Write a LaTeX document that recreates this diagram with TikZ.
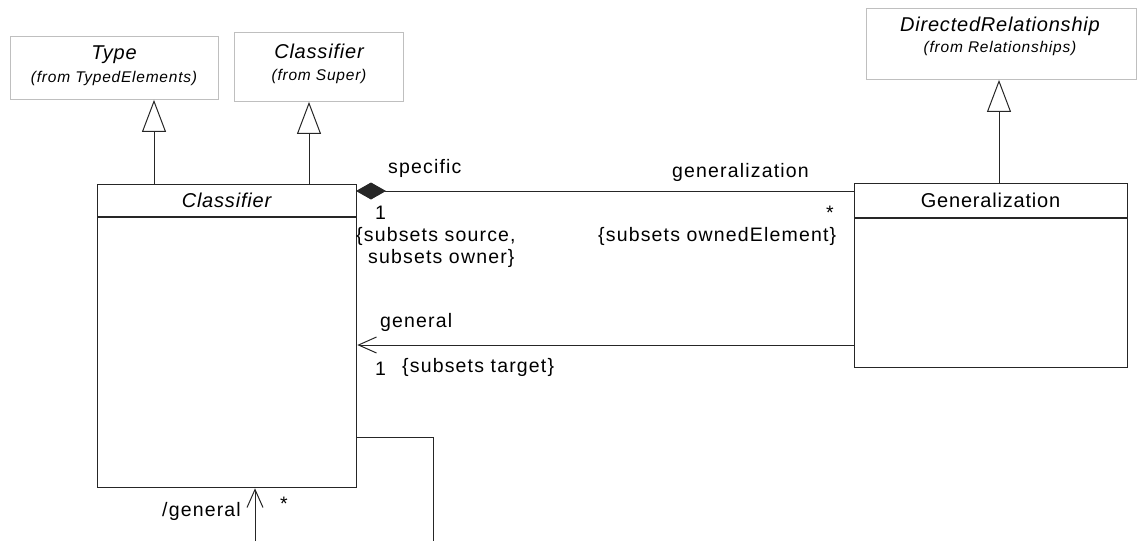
\documentclass[tikz,border=0pt]{standalone}
\usepackage{fontspec}
\setmainfont{Liberation Sans}
\usetikzlibrary{arrows.meta,calc}
\begin{document}
\begin{tikzpicture}[x=1pt,y=-1pt,
  greybox/.style={draw=black!25,line width=0.9pt,rectangle,inner sep=0pt,anchor=north west},
  umlbox/.style={draw=black!85,line width=1.3pt,rectangle,inner sep=0pt,anchor=north west},
  conn/.style={draw=black!85,line width=1pt},
  inh/.style={conn,-{Triangle[open,width=24pt,length=32pt,line width=1pt]}},
  navarrow/.style={conn,-{Straight Barb[length=18pt,width=16pt,line width=1pt]}},
  comp/.style={conn,{Diamond[width=17pt,length=30pt]}-},
  lbl/.style={font=\fontsize{19.5}{22}\selectfont\addfontfeature{LetterSpace=6},inner sep=0pt,anchor=base west},
  ttl/.style={font=\fontsize{20}{24}\selectfont\addfontfeature{LetterSpace=4},inner sep=0pt},
  ittl/.style={font=\fontsize{20}{24}\selectfont\itshape\addfontfeature{LetterSpace=4},inner sep=0pt},
  small/.style={font=\fontsize{15.5}{18}\selectfont\itshape\addfontfeature{LetterSpace=5},inner sep=0pt}]
\useasboundingbox (0,0) rectangle (1138,541);
% top grey boxes
\node[greybox,minimum width=208pt,minimum height=63pt] (typ) at (10,36) {};
\node[ittl] (typt) at (114,55) {Type};
\node[small] (typs) at (114,78) {(from TypedElements)};
\node[greybox,minimum width=169pt,minimum height=69pt] (sup) at (234,32) {};
\node[ittl] (supt) at (319,51) {Classifier};
\node[small] (sups) at (319,76) {(from Super)};
\node[greybox,minimum width=270pt,minimum height=71pt] (dr) at (866,8) {};
\node[ittl] (drt) at (1000,26) {DirectedRelationship};
\node[small] (drs) at (1000,48) {(from Relationships)};
% Classifier
\node[umlbox,minimum width=259pt,minimum height=303pt] (cls) at (97,184) {};
\draw[umlbox] (cls.west |- 0,217) -- (cls.east |- 0,217);
\node[ittl] (clst) at (226.5,200) {Classifier};
% Generalization
\node[umlbox,minimum width=273pt,minimum height=184pt] (gen) at (854,183) {};
\draw[umlbox] (gen.west |- 0,218) -- (gen.east |- 0,218);
\node[ttl] (gent) at (990.5,200) {Generalization};
% inheritance
\coordinate (c1) at (154,184);
\coordinate (c2) at (309,184);
\coordinate (c3) at (999,183);
\draw[inh] (c1) -- (c1 |- typ.south);
\draw[inh] (c2) -- (c2 |- sup.south);
\draw[inh] (c3) -- (c3 |- dr.south);
% composition
\coordinate (d1) at (356,191);
\draw[comp] (d1) -- (d1 -| gen.west);
\node[lbl] (l1) at (388,173) {specific};
\node[lbl] (l2) at (672,177) {generalization};
\node[lbl] (l3) at (375,219) {1};
\node[lbl] (l4) at (356,241) {\{subsets source,};
\node[lbl] (l5) at (368,263) {subsets owner\}};
\node[lbl] (l6) at (826,219) {*};
\node[lbl] (l7) at (598,241) {\{subsets ownedElement\}};
% general
\coordinate (g1) at (854,345);
\draw[navarrow] (g1) -- (g1 -| cls.east);
\node[lbl] (l8) at (380,327) {general};
\node[lbl] (l9) at (375,375) {1};
\node[lbl] (l10) at (402,372) {\{subsets target\}};
% self association
\coordinate (s1) at (356,437);
\coordinate (s2) at (433,541);
\coordinate (s3) at (255,541);
\draw[conn] (s1) -| (s2);
\draw[navarrow] (s3) -- (s3 |- cls.south);
\node[lbl] (l11) at (162,516) {/general};
\node[lbl] (l12) at (280,510) {*};
\end{tikzpicture}
\end{document}
